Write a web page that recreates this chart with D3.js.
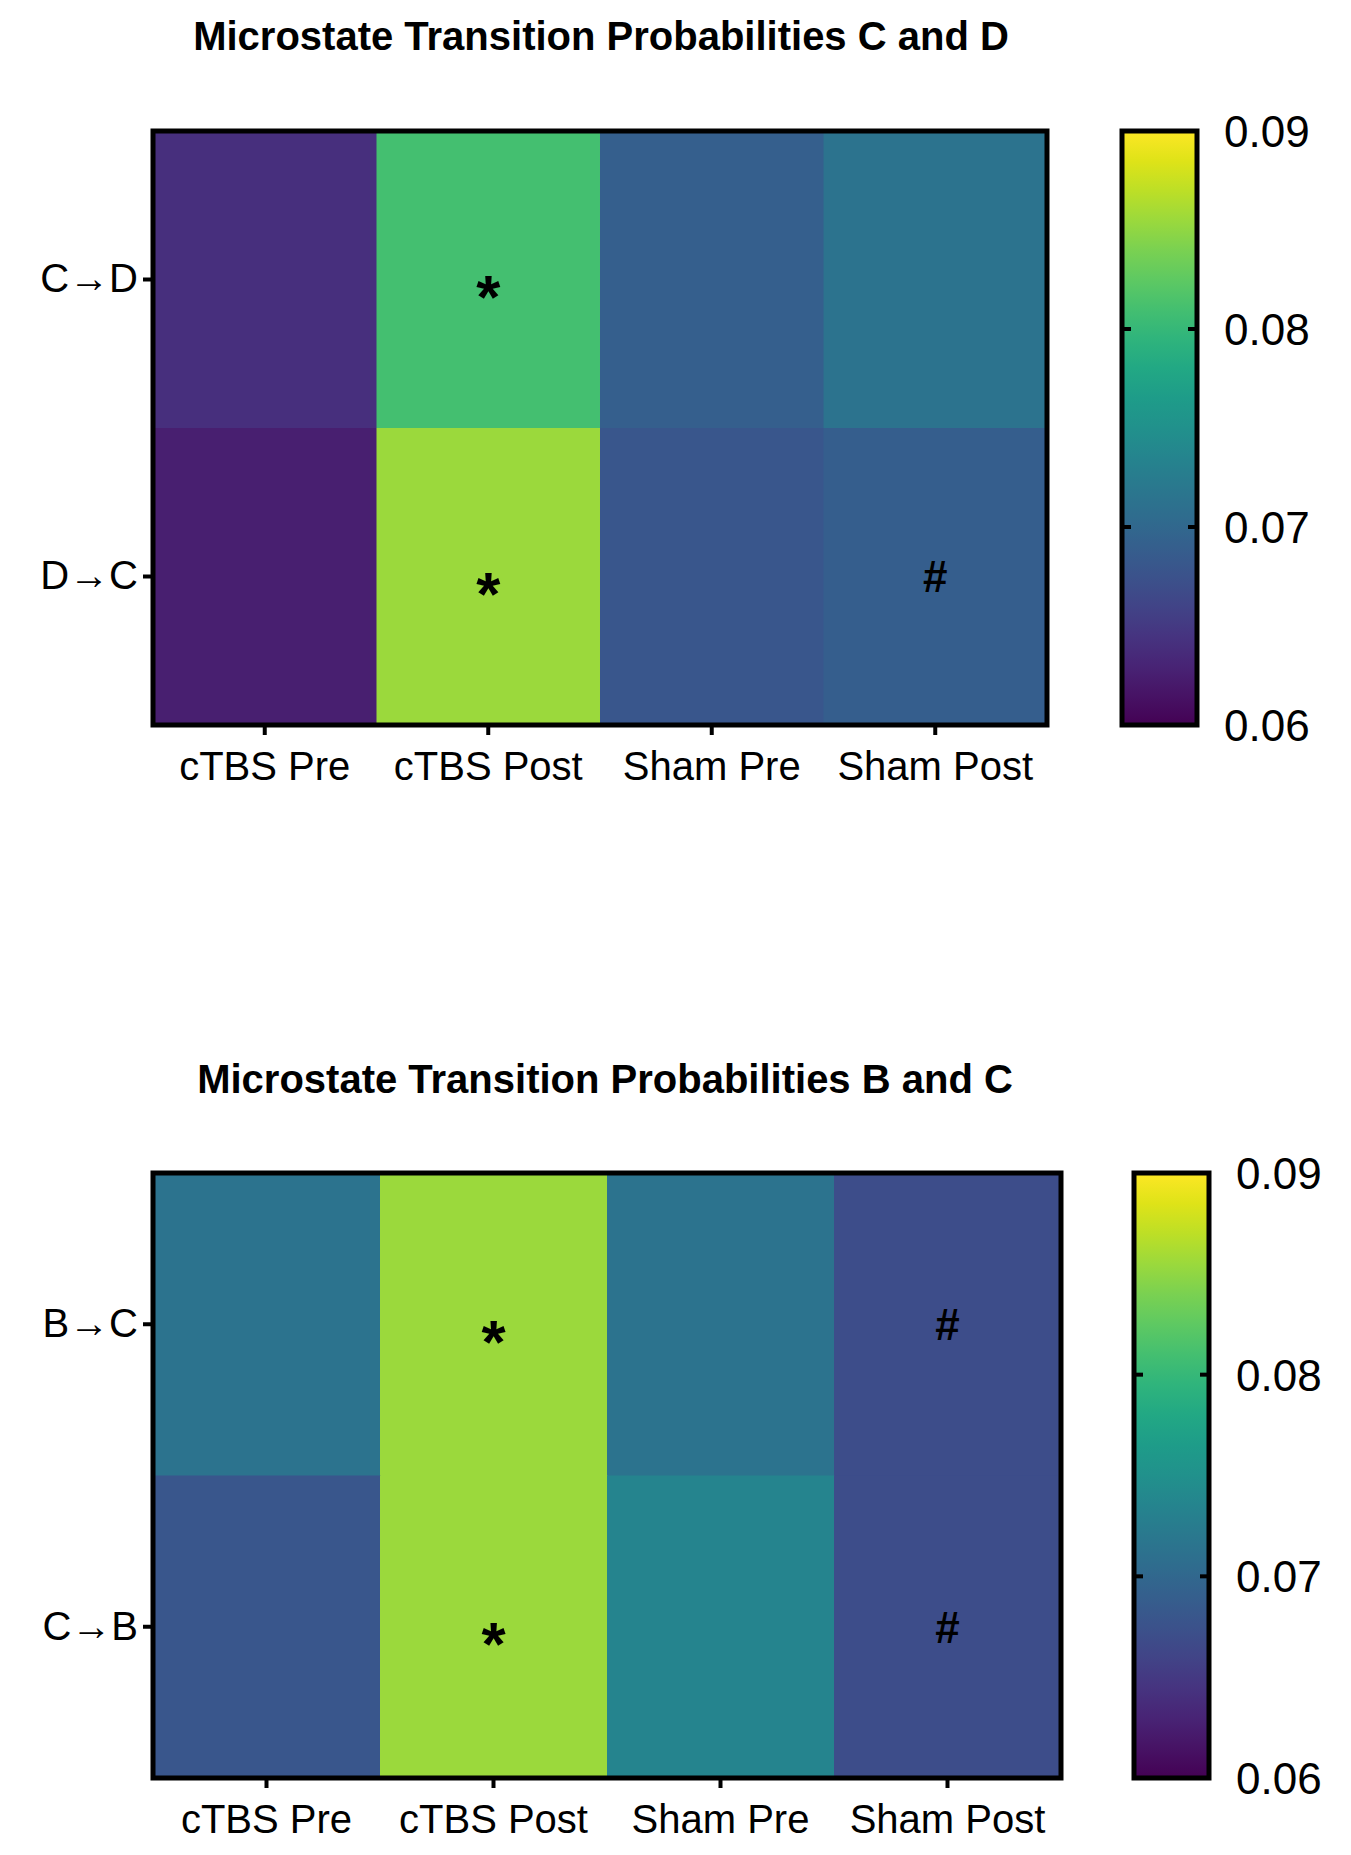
<!DOCTYPE html><html><head><meta charset="utf-8"><script src="https://cdn.jsdelivr.net/npm/d3@7"></script>
<style>body{margin:0;background:#fff}</style></head><body><svg id="c" width="1351" height="1855"></svg><script>
const columns=["cTBS Pre","cTBS Post","Sham Pre","Sham Post"];
const rows1=["C→D","D→C"];
const values1=[[0.064,0.081,0.069,0.0714],[0.0625,0.0855,0.068,0.0688]];
const marks1=[["","*","",""],["","*","","#"]];
const rows2=["B→C","C→B"];
const values2=[[0.0714,0.0855,0.0714,0.067],[0.068,0.0855,0.0735,0.067]];
const marks2=[["","*","","#"],["","*","","#"]];
const cbTicks=[0.06,0.07,0.08,0.09];
const title1="Microstate Transition Probabilities C and D";
const title2="Microstate Transition Probabilities B and C";
const svg=d3.select("#c");
const color=d3.scaleSequential(d3.interpolateViridis).domain([0.06,0.09]);
function panel(o){
  const g=svg.append("g");
  g.append("text").attr("x",o.tx).attr("y",o.ty).attr("text-anchor","middle").attr("font-family","Liberation Sans, Arial").attr("font-weight","bold").attr("font-size",40).text(o.title);
  const x=d3.scaleBand().domain(columns).range([o.l,o.r]);
  const y=d3.scaleBand().domain(o.rows).range([o.t,o.b]);
  o.rows.forEach((rw,i)=>columns.forEach((c,j)=>{
    g.append("rect").attr("x",x(c)).attr("y",y(rw)).attr("width",x.bandwidth()+0.5).attr("height",y.bandwidth()+0.5).attr("fill",color(o.vals[i][j]));
    if(o.marks[i][j]) g.append("text").attr("x",x(c)+x.bandwidth()/2).attr("y",y(rw)+y.bandwidth()/2).attr("dy",o.marks[i][j]=="*"?"0.62em":"0.36em").attr("text-anchor","middle").attr("font-family","Liberation Sans, Arial").attr("font-weight","bold").attr("font-size",o.marks[i][j]=="*"?62:44).text(o.marks[i][j]);
  }));
  g.append("rect").attr("x",o.l).attr("y",o.t).attr("width",o.r-o.l).attr("height",o.b-o.t).attr("fill","none").attr("stroke","#000").attr("stroke-width",5);
  const ax=g.append("g").attr("transform",`translate(0,${o.b})`).call(d3.axisBottom(x).tickSize(10).tickSizeOuter(0));
  const ay=g.append("g").attr("transform",`translate(${o.l},0)`).call(d3.axisLeft(y).tickSize(10).tickSizeOuter(0));
  [ax,ay].forEach(a=>{a.select(".domain").remove();a.selectAll("line").attr("stroke-width",4);a.selectAll("text").attr("font-family","Liberation Sans, Arial").attr("font-size",40).attr("fill","#000");});
  ax.selectAll("text").attr("dy","1.05em");
  ay.selectAll("text").attr("dx","-0.05em");
  // colorbar
  const id="grad"+o.t;
  const gr=svg.append("defs").append("linearGradient").attr("id",id).attr("x1",0).attr("y1",1).attr("x2",0).attr("y2",0);
  d3.range(0,1.01,0.05).forEach(t=>gr.append("stop").attr("offset",t).attr("stop-color",d3.interpolateViridis(t)));
  const cy=d3.scaleLinear().domain([0.06,0.09]).range([o.b,o.t]);
  g.append("rect").attr("x",o.cl).attr("y",o.t).attr("width",o.cw).attr("height",o.b-o.t).attr("fill",`url(#${id})`).attr("stroke","#000").attr("stroke-width",5);
  cbTicks.forEach(v=>{
    if(v>0.06&&v<0.09){[o.cl,o.cl+o.cw-9].forEach(xx=>g.append("line").attr("x1",xx).attr("x2",xx+9).attr("y1",cy(v)).attr("y2",cy(v)).attr("stroke","#000").attr("stroke-width",4));}
    g.append("text").attr("x",o.cl+o.cw+27).attr("y",cy(v)).attr("dy","0.36em").attr("font-family","Liberation Sans, Arial").attr("font-size",44).text(v.toFixed(2));
  });
}
panel({title:title1,tx:601,ty:50,l:153,r:1047,t:131,b:725,rows:rows1,vals:values1,marks:marks1,cl:1122,cw:75});
panel({title:title2,tx:605,ty:1093,l:153,r:1061,t:1173,b:1778,rows:rows2,vals:values2,marks:marks2,cl:1134,cw:75});
</script></body></html>
